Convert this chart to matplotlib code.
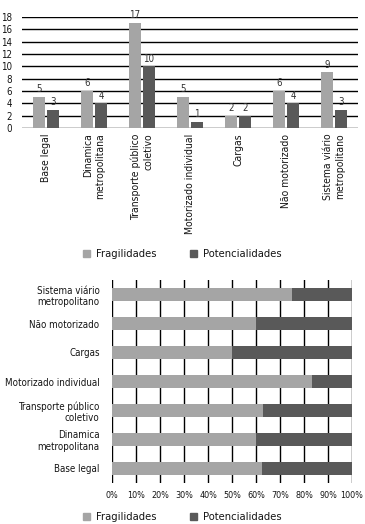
import matplotlib
matplotlib.use("Agg")
import matplotlib.pyplot as plt
from matplotlib.patches import Patch
import numpy as np

plt.rcParams['font.family'] = ['DejaVu Sans']
plt.rcParams['font.stretch'] = 'condensed'

categories = ["Base legal", "Dinamica\nmetropolitana", "Transporte público\ncoletivo",
              "Motorizado individual", "Cargas", "Não motorizado",
              "Sistema viário\nmetropolitano"]
fragilidades = [5, 6, 17, 5, 2, 6, 9]
potencialidades = [3, 4, 10, 1, 2, 4, 3]
y_ticks = list(range(0, 19, 2))
pct_ticks = list(range(0, 101, 10))

c_frag = "#a5a5a5"
c_pot = "#595959"
txt = "#141414"

W, H = 365, 524
fig = plt.figure(figsize=(W / 100, H / 100), dpi=100)

def ax_px(l, t, r, b):
    return fig.add_axes([l / W, 1 - b / H, (r - l) / W, (b - t) / H])

# ---------- top grouped bar chart ----------
ax1 = ax_px(22, 17, 358, 128)
x = np.arange(len(categories))
bw = 0.24
gap = 0.05
b1 = ax1.bar(x - bw / 2 - gap / 2, fragilidades, bw, color=c_frag, zorder=3)
b2 = ax1.bar(x + bw / 2 + gap / 2, potencialidades, bw, color=c_pot, zorder=3)
for bars, vals in ((b1, fragilidades), (b2, potencialidades)):
    for rect, v in zip(bars, vals):
        ax1.annotate(str(v), (rect.get_x() + rect.get_width() / 2, v),
                     xytext=(0, 2), textcoords="offset points",
                     ha="center", va="bottom", fontsize=7, color="#333333")
ax1.set_xlim(-0.5, len(categories) - 0.5)
ax1.set_ylim(0, 18)
ax1.set_yticks(y_ticks)
ax1.yaxis.grid(True, color="black", linewidth=1, zorder=0)
ax1.set_axisbelow(True)
for s in ax1.spines.values():
    s.set_visible(False)
ax1.tick_params(axis="y", length=0, pad=7, labelsize=7, labelcolor=txt)
ax1.tick_params(axis="x", length=0, pad=4)
ax1.set_xticks(x)
ax1.set_xticklabels(categories, rotation=90, va="top", ha="center",
                    multialignment="right", fontsize=7.5, color=txt)

fig.legend(handles=[Patch(color=c_frag, label="Fragilidades"),
                    Patch(color=c_pot, label="Potencialidades")],
           loc="center", bbox_to_anchor=(0.5, 1 - 254 / H), ncol=2,
           frameon=False, fontsize=8, handlelength=0.6, handleheight=0.6,
           columnspacing=3.0, handletextpad=0.6, labelcolor=txt)

# ---------- bottom 100% stacked bar chart ----------
ax2 = ax_px(112, 280, 352, 483)
tot = np.array(fragilidades, float) + np.array(potencialidades, float)
pf = np.array(fragilidades) / tot * 100
pp = np.array(potencialidades) / tot * 100
yy = np.arange(len(categories))
ax2.barh(yy, pf, 0.45, color=c_frag, zorder=3)
ax2.barh(yy, pp, 0.45, left=pf, color=c_pot, zorder=3)
ax2.set_ylim(-0.5, len(categories) - 0.5)
ax2.set_xlim(0, 100)
ax2.set_xticks(pct_ticks)
ax2.set_xticklabels([f"{t}%" for t in pct_ticks], fontsize=6.5, color=txt)
ax2.xaxis.grid(True, color="black", linewidth=1, zorder=0)
ax2.set_axisbelow(True)
for s in ax2.spines.values():
    s.set_visible(False)
ax2.tick_params(axis="x", length=0, pad=6)
ax2.tick_params(axis="y", length=0, pad=9)
ax2.set_yticks(yy)
ax2.set_yticklabels(categories, fontsize=7, color=txt, multialignment="right")

fig.legend(handles=[Patch(color=c_frag, label="Fragilidades"),
                    Patch(color=c_pot, label="Potencialidades")],
           loc="center", bbox_to_anchor=(0.5, 1 - 517 / H), ncol=2,
           frameon=False, fontsize=8, handlelength=0.6, handleheight=0.6,
           columnspacing=3.0, handletextpad=0.6, labelcolor=txt)

fig.savefig("out.png", dpi=100, facecolor="white")
